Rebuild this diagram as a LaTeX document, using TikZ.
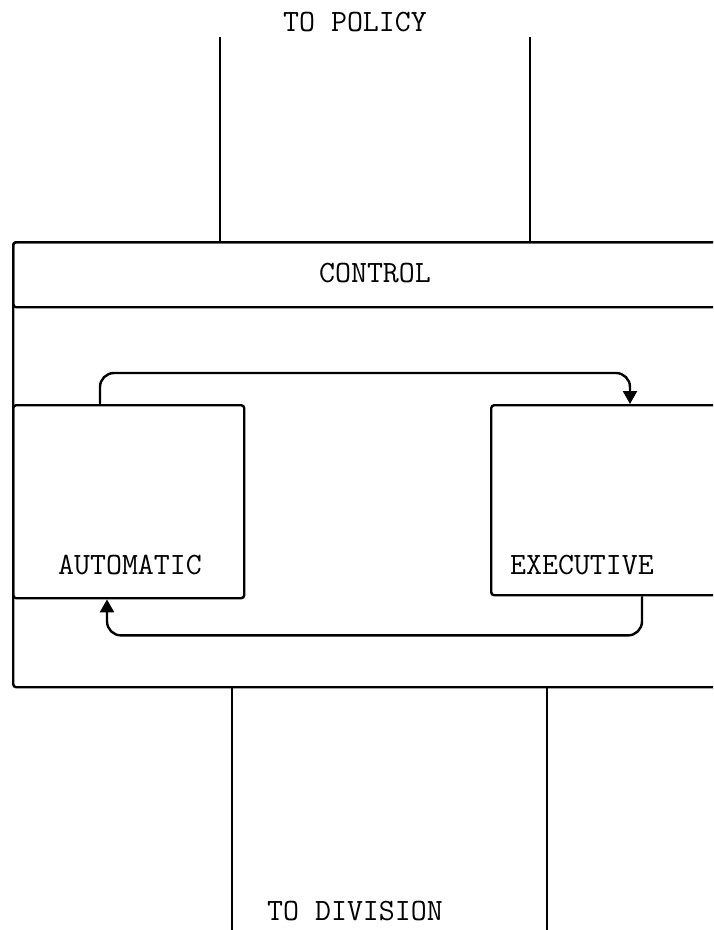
\documentclass[tikz,border=0pt]{standalone}
\usetikzlibrary{arrows.meta}
\begin{document}
\begin{tikzpicture}[x=1pt,y=-1pt,
  line width=2.4pt,
  every node/.style={font=\ttfamily\fontsize{31}{36}\selectfont, inner sep=0pt},
  boxstyle/.style={draw, rectangle, rounded corners=3pt, anchor=north west},
  label/.style={text=black},
  flow/.style={line width=2.4pt, rounded corners=14pt, -{Triangle[width=14pt,length=13pt]}}]
\useasboundingbox (0,0) rectangle (713,930);
\clip (0,0) rectangle (713,930);
% containers
\node[boxstyle, minimum width=730pt, minimum height=445pt] (outer) at (12,241) {};
\node[boxstyle, minimum width=730pt, minimum height=65pt] (band) at (12,241) {};
\node[label] (control) at (375,273) {CONTROL};
\node[boxstyle, minimum width=231pt, minimum height=193pt] (auto) at (12,404) {};
\node[boxstyle, minimum width=240pt, minimum height=190pt] (exec) at (490,404) {};
\node[label] (autolabel) at (130,565) {AUTOMATIC};
\node[label] (execlabel) at (582,565) {EXECUTIVE};
\node[label] (policy) at (355,22) {TO POLICY};
\node[label] (division) at (355,911) {TO DIVISION};
% channels
\coordinate (p1) at (220,37);
\coordinate (p2) at (530,37);
\coordinate (d1) at (232,935);
\coordinate (d2) at (547,935);
\draw (p1) -- (p1 |- band.north);
\draw (p2) -- (p2 |- band.north);
\draw (d1 |- outer.south) -- (d1);
\draw (d2 |- outer.south) -- (d2);
% feedback loops
\draw[flow] ([xshift=88pt]auto.north west) -- ++(0,-31) -| ([xshift=140pt]exec.north west);
\draw[flow] ([xshift=152pt]exec.south west) -- ++(0,39) -| ([xshift=95pt]auto.south west);
\end{tikzpicture}
\end{document}
